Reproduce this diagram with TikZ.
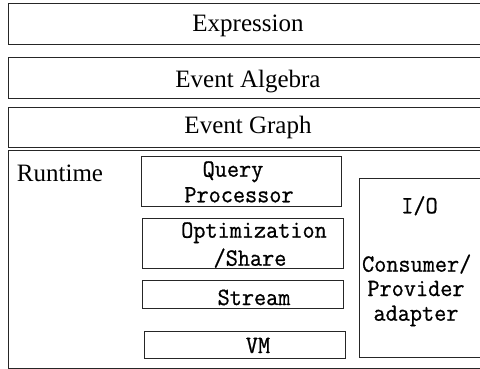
\documentclass[tikz,border=0pt]{standalone}
\usepackage{fontspec}
\setmainfont{Liberation Serif}
\newfontfamily\monof[FakeBold=0.8,FakeStretch=0.95]{Latin Modern Mono}
\begin{document}
\begin{tikzpicture}[x=1pt,y=-1pt,
  box/.style={draw=black!85, line width=1pt, rectangle, inner sep=0pt, anchor=north west},
  serif/.style={anchor=base, inner sep=0pt, font=\fontsize{25}{30}\selectfont},
  mono/.style={anchor=base, inner sep=0pt, font=\monof\fontsize{24.8}{26}\selectfont}]
\useasboundingbox (0,0) rectangle (480,369);
\clip (0,0) rectangle (480,369);
% outer layers
\node[box, minimum width=482pt, minimum height=41pt] (expr) at (8,3) {};
\node[box, minimum width=482pt, minimum height=41pt] (alg) at (8,57) {};
\node[box, minimum width=482pt, minimum height=40pt] (graph) at (8,107) {};
\node[box, minimum width=482pt, minimum height=217.8pt] (rt) at (8,150) {};
% inner boxes
\node[box, minimum width=200.3pt, minimum height=49.7pt] (qp) at (140.7,156) {};
\node[box, minimum width=201pt, minimum height=50pt] (opt) at (142.3,218.3) {};
\node[box, minimum width=201pt, minimum height=28.3pt] (str) at (142.3,280) {};
\node[box, minimum width=200.7pt, minimum height=27.6pt] (vm) at (144.3,330.7) {};
\node[box, minimum width=131pt, minimum height=178.7pt] (io) at (359.3,178.3) {};
% texts
\node[serif] (texpr) at (248,31.5) {Expression};
\node[serif] (talg) at (248,87.3) {Event Algebra};
\node[serif] (tgraph) at (248,134) {Event Graph};
\node[serif] (trt) at (60,181.7) {Runtime};
\node[mono] (tq1) at (233,176.7) {Query};
\node[mono] (tq2) at (239,202.3) {Processor};
\node[mono] (to1) at (254,237.7) {Optimization};
\node[mono] (to2) at (250,265.7) {/Share};
\node[mono] (ts) at (254,305) {Stream};
\node[mono] (tvm) at (258,353) {VM};
\node[mono] (tio) at (419.5,213.3) {I/O};
\node[mono] (tc1) at (416.7,271.7) {Consumer/};
\node[mono] (tc2) at (416,296) {Provider};
\node[mono] (tc3) at (416,320.7) {adapter};
\end{tikzpicture}
\end{document}
